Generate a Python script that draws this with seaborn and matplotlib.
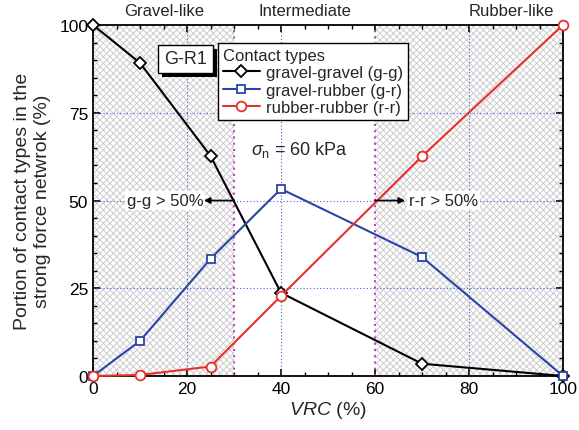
import matplotlib
matplotlib.use("Agg")
import matplotlib.pyplot as plt
import seaborn as sns
import pandas as pd
from matplotlib.ticker import MultipleLocator
from matplotlib.patches import Rectangle

sns.set_theme(style="white")
plt.rcParams['font.family'] = ['Liberation Sans', 'DejaVu Sans']
plt.rcParams['hatch.linewidth'] = 0.7
plt.rcParams['mathtext.fontset'] = 'custom'
plt.rcParams['mathtext.rm'] = 'Liberation Sans'
plt.rcParams['mathtext.it'] = 'Liberation Sans:italic'

vrc = [0, 10, 25, 40, 70, 100]
gg = [100, 89.2, 62.7, 23.7, 3.5, 0]
gr = [0, 10.0, 33.4, 53.3, 33.9, 0]
rr = [0, 0.3, 2.7, 22.8, 62.6, 100]
series_names = ['gravel-gravel (g-g)', 'gravel-rubber (g-r)', 'rubber-rubber (r-r)']
colors = ['#000000', '#2b44a6', '#e8302a']
markers = ['D', 's', 'o']
msizes = [6, 6, 7]
regions = ['Gravel-like', 'Intermediate', 'Rubber-like']
region_x = [15.2, 45, 89]

df = pd.DataFrame({'VRC': vrc * 3,
                   'value': gg + gr + rr,
                   'type': [series_names[0]] * 6 + [series_names[1]] * 6 + [series_names[2]] * 6})

fig = plt.figure(figsize=(5.79, 4.31), dpi=100)
ax = fig.add_axes([93/579, 1 - 377/431, 470/579, 351/431])

# hatched regions
for x0, x1 in [(0, 30), (60, 100)]:
    ax.add_patch(Rectangle((x0, 0), x1 - x0, 100, facecolor='white',
                           edgecolor='#cdcdcd', hatch='xxxxx', linewidth=0, zorder=0))

# grid
for gx in [20, 40, 80]:
    ax.axvline(gx, color='#4a5fd0', lw=0.8, ls=(0, (1, 2)), zorder=1)
for gy in [25, 50, 75]:
    ax.axhline(gy, color='#4a5fd0', lw=0.8, ls=(0, (1, 2)), zorder=1)
for vx in [30, 60]:
    ax.axvline(vx, color='#c040c0', lw=1.5, ls=(0, (1, 2)), zorder=1)

for name, c, m, ms in zip(series_names, colors, markers, msizes):
    sub = df[df['type'] == name]
    sns.lineplot(data=sub, x='VRC', y='value', ax=ax, color=c, marker=m,
                 markersize=ms, markerfacecolor='white', markeredgecolor=c,
                 markeredgewidth=1.3, lw=1.5, label=name, zorder=3, clip_on=False)

ax.set_xlim(0, 100)
ax.set_ylim(0, 100)
ax.xaxis.set_major_locator(MultipleLocator(20))
ax.xaxis.set_minor_locator(MultipleLocator(5))
ax.yaxis.set_major_locator(MultipleLocator(25))
ax.yaxis.set_minor_locator(MultipleLocator(5))
ax.tick_params(which='both', direction='in', top=True, right=True, bottom=True, left=True,
               labelsize=12.5, colors='black')
ax.tick_params(which='major', length=5, width=1.2)
ax.tick_params(which='minor', length=3, width=1.0)
for s in ax.spines.values():
    s.set_color('black')
    s.set_linewidth(1.3)

ax.set_xlabel(r'$\it{VRC}$ (%)', fontsize=14, labelpad=2)
ax.set_ylabel('Portion of contact types in the\nstrong force netwrok (%)', fontsize=14, labelpad=6)

for t, xr in zip(regions, region_x):
    ax.text(xr, 102, t, ha='center', va='bottom', fontsize=12)

leg = ax.legend(title='Contact types', loc='upper left', bbox_to_anchor=(0.266, 0.95),
                fontsize=12, title_fontsize=12, frameon=True, fancybox=False,
                borderpad=0.3, labelspacing=0.15, handlelength=2.2, handletextpad=0.4,
                borderaxespad=0)
leg._legend_box.align = 'left'
leg.get_frame().set_edgecolor('black')
leg.get_frame().set_linewidth(1.0)
leg.get_frame().set_alpha(1)

# G-R1 label box with drop shadow (in pixel coordinates of the figure)
fig_h = 431
ax.add_artist(Rectangle((162, fig_h - 78), 55, 28, transform=None,
                        facecolor='black', edgecolor='none', zorder=5))
ax.add_artist(Rectangle((158, fig_h - 74), 55, 28, transform=None,
                        facecolor='white', edgecolor='black', lw=1.0, zorder=6))
ax.text(185.5, fig_h - 60, 'G-R1', transform=None, ha='center', va='center',
        fontsize=13, zorder=7)

ax.text(0.44, 0.647, r'$\sigma_{\rm n}$ = 60 kPa', transform=ax.transAxes, ha='center', va='center',
        fontsize=13)

ax.annotate('', xy=(23.6, 50), xytext=(30, 50),
            arrowprops=dict(arrowstyle='-|>', color='black', lw=1.2, mutation_scale=9,
                            shrinkA=0, shrinkB=0), zorder=4)
ax.text(15.4, 50, 'g-g > 50%', ha='center', va='center', fontsize=12,
        bbox=dict(boxstyle='square,pad=0.1', facecolor='white', edgecolor='none'), zorder=4)
ax.annotate('', xy=(66.4, 50), xytext=(60, 50),
            arrowprops=dict(arrowstyle='-|>', color='black', lw=1.2, mutation_scale=9,
                            shrinkA=0, shrinkB=0), zorder=4)
ax.text(74.6, 50, 'r-r > 50%', ha='center', va='center', fontsize=12,
        bbox=dict(boxstyle='square,pad=0.1', facecolor='white', edgecolor='none'), zorder=4)

fig.savefig('out.png', dpi=100)
